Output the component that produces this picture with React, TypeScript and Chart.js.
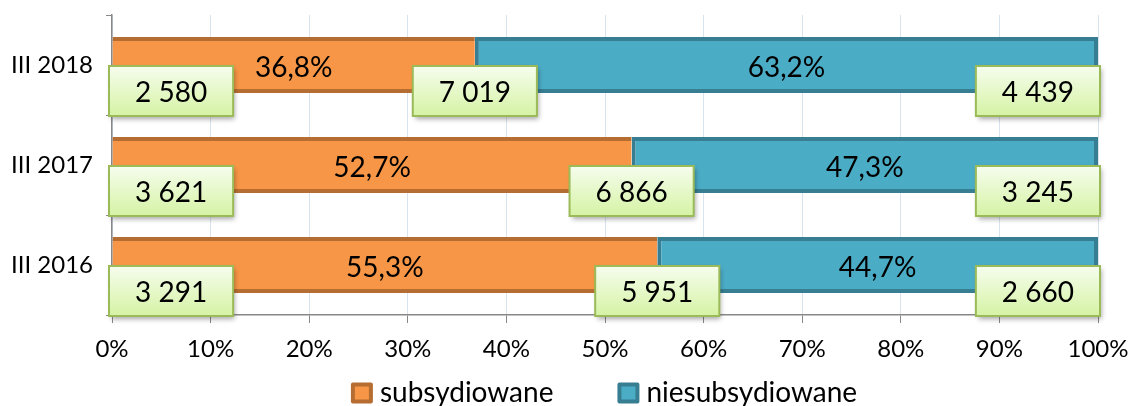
import { useEffect, useRef } from 'react';
import { Chart, registerables } from 'chart.js';

Chart.register(...registerables);

// ---- data ----
const categories = ['III 2018', 'III 2017', 'III 2016'];
const seriesNames = ['subsydiowane', 'niesubsydiowane'];
const subsidizedPct = [36.8, 52.7, 55.3];
const unsubsidizedPct = [63.2, 47.3, 44.7];
const subsidizedCount = [2580, 3621, 3291];
const unsubsidizedCount = [4439, 3245, 2660];
const totalCount = [7019, 6866, 5951];

const FONT = 'Lato';
const fmtCount = (n: number) => String(n).replace(/\B(?=(\d{3})+(?!\d))/g, ' ');
const fmtPct = (v: number) => v.toFixed(1).replace('.', ',') + '%';

function drawBox(ctx: CanvasRenderingContext2D, text: string, ax: number, cy: number, align: 'left' | 'center' | 'right') {
  ctx.font = `28px ${FONT}`;
  const tw = ctx.measureText(text).width;
  const w = tw + 52;
  const h = 50;
  let x = ax;
  if (align === 'center') x = ax - w / 2;
  if (align === 'right') x = ax - w;
  const y = cy - h / 2;
  ctx.save();
  ctx.shadowColor = 'rgba(0,0,0,0.35)';
  ctx.shadowBlur = 5;
  ctx.shadowOffsetX = 2;
  ctx.shadowOffsetY = 3;
  const g = ctx.createLinearGradient(0, y, 0, y + h);
  g.addColorStop(0, '#F6FDEE');
  g.addColorStop(1, '#D5F3A4');
  ctx.fillStyle = g;
  ctx.fillRect(x, y, w, h);
  ctx.restore();
  ctx.save();
  ctx.strokeStyle = '#9BBB59';
  ctx.lineWidth = 2;
  ctx.strokeRect(x, y, w, h);
  ctx.fillStyle = '#000';
  ctx.textAlign = 'center';
  ctx.textBaseline = 'middle';
  ctx.fillText(text, x + w / 2, cy + 2);
  ctx.restore();
}

const labelsPlugin = {
  id: 'customLabels',
  afterDatasetsDraw(chart: any) {
    const ctx: CanvasRenderingContext2D = chart.ctx;
    const xs = chart.scales.x;
    const ys = chart.scales.y;
    ctx.save();
    ctx.font = `28px ${FONT}`;
    ctx.fillStyle = '#000';
    ctx.textAlign = 'center';
    ctx.textBaseline = 'middle';
    chart.data.datasets.forEach((ds: any, di: number) => {
      const meta = chart.getDatasetMeta(di);
      meta.data.forEach((bar: any, i: number) => {
        const cx = (bar.x + bar.base) / 2;
        ctx.fillText(fmtPct(ds.data[i]), cx, bar.y + 3);
      });
    });
    ctx.restore();
    categories.forEach((_, i) => {
      const yc = ys.getPixelForValue(i) + 26;
      drawBox(ctx, fmtCount(subsidizedCount[i]), xs.getPixelForValue(0) - 3, yc, 'left');
      drawBox(ctx, fmtCount(totalCount[i]), xs.getPixelForValue(subsidizedPct[i]), yc, 'center');
      drawBox(ctx, fmtCount(unsubsidizedCount[i]), xs.getPixelForValue(100) + 2, yc, 'right');
    });
  },
};

const legendPlugin = {
  id: 'customLegend',
  afterDraw(chart: any) {
    const ctx: CanvasRenderingContext2D = chart.ctx;
    const area = chart.chartArea;
    ctx.save();
    ctx.font = `28px ${FONT}`;
    const boxW = 18, boxH = 17, textGap = 9, itemGap = 66;
    const items = chart.data.datasets.map((ds: any) => ({
      text: ds.label,
      fill: ds.backgroundColor,
      stroke: ds.borderColor,
      w: boxW + textGap + ctx.measureText(ds.label).width,
    }));
    const total = items.reduce((s: number, it: any) => s + it.w, 0) + itemGap * (items.length - 1);
    let x = (area.left + area.right) / 2 - total / 2;
    const yc = chart.height - 13;
    items.forEach((it: any) => {
      ctx.fillStyle = it.fill;
      ctx.strokeStyle = it.stroke;
      ctx.lineWidth = 4;
      ctx.lineJoin = 'round';
      ctx.fillRect(x, yc - boxH / 2, boxW, boxH);
      ctx.strokeRect(x, yc - boxH / 2, boxW, boxH);
      ctx.fillStyle = '#000';
      ctx.textAlign = 'left';
      ctx.textBaseline = 'middle';
      ctx.fillText(it.text, x + boxW + textGap, yc);
      x += it.w + itemGap;
    });
    ctx.restore();
  },
};

export default function App() {
  const ref = useRef<HTMLCanvasElement>(null);
  useEffect(() => {
    document.body.style.margin = '0';
    const chart = new Chart(ref.current as HTMLCanvasElement, {
      type: 'bar',
      data: {
        labels: categories,
        datasets: [
          {
            label: seriesNames[0],
            data: subsidizedPct,
            backgroundColor: '#F79646',
            borderColor: '#B66D31',
            borderWidth: { top: 4, bottom: 4, left: 0, right: 0 },
            borderSkipped: false,
            barPercentage: 0.56,
            categoryPercentage: 1,
          },
          {
            label: seriesNames[1],
            data: unsubsidizedPct,
            backgroundColor: '#4BACC6',
            borderColor: '#377E92',
            borderWidth: 4,
            borderSkipped: false,
            barPercentage: 0.56,
            categoryPercentage: 1,
          },
        ],
      },
      options: {
        indexAxis: 'y',
        animation: false,
        responsive: false,
        layout: { padding: { top: 15, right: 34, left: 0, bottom: 0 } },
        plugins: { legend: { display: false }, tooltip: { enabled: false } },
        scales: {
          x: {
            stacked: true,
            min: 0,
            max: 100,
            ticks: {
              stepSize: 10,
              callback: (v: any) => v + '%',
              color: '#000',
              font: { family: FONT, size: 24 },
              padding: 12,
              maxRotation: 0,
            },
            grid: { color: '#D9E3EE', lineWidth: 1, tickColor: '#888', tickLength: 8 },
            border: { color: '#888', width: 1.5 },
            afterFit: (s: any) => {
              s.height = 91;
              s.paddingLeft = 0;
              s.paddingRight = 0;
            },
          },
          y: {
            stacked: true,
            offset: true,
            ticks: { color: '#000', font: { family: FONT, size: 24 }, padding: 13 },
            grid: { drawOnChartArea: false, offset: true, tickColor: '#888', tickLength: 6 },
            border: { color: '#888', width: 1.5 },
            afterFit: (s: any) => {
              s.width = 112;
              s.paddingTop = 0;
              s.paddingBottom = 0;
            },
          },
        },
      },
      plugins: [labelsPlugin, legendPlugin],
    } as any);
    return () => chart.destroy();
  }, []);
  return (
    <div style={{ width: 1132, height: 406 }}>
      <canvas ref={ref} width={1132} height={406} />
    </div>
  );
}
